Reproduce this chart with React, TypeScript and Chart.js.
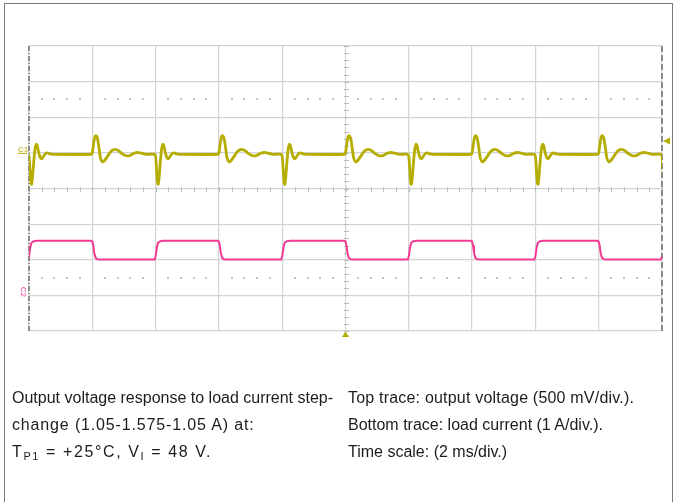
import React, { useEffect, useRef } from "react";
import { Chart, registerables } from "chart.js";

Chart.register(...registerables);

// Time axis: 10 divisions of 2 ms; vertical axis in divisions (-4..4)
const timeMin = 0;
const timeMax = 20;
const timeStep = 2;
const divMin = -4;
const divMax = 4;

// Top trace: output voltage (divisions), baseline level
const voltageBaseline = 0.96;
// load steps up (voltage dips) and down (voltage overshoots), ms
const stepUpTimes = [0, 4, 8, 12, 16, 20];
const stepDownTimes = [2, 6, 10, 14, 18];
// response shapes: [offset ms, level div]
const dipResponse: [number, number][] = [
  [-0.03, 0.96], [0.0, 0.9], [0.03, 0.55], [0.06, 0.17], [0.08, 0.12], [0.11, 0.3],
  [0.15, 0.75], [0.19, 1.1], [0.23, 1.24], [0.26, 1.2], [0.31, 1.0], [0.36, 0.86],
  [0.41, 0.84], [0.47, 0.92], [0.54, 0.99], [0.59, 1.0], [0.66, 0.97], [0.75, 0.96],
];
const overshootResponse: [number, number][] = [
  [-0.03, 0.96], [0.0, 1.0], [0.04, 1.25], [0.08, 1.44], [0.12, 1.48], [0.16, 1.42],
  [0.21, 1.15], [0.26, 0.85], [0.32, 0.75], [0.38, 0.78], [0.48, 0.9], [0.6, 1.05],
  [0.72, 1.1], [0.83, 1.06], [0.95, 0.97], [1.08, 0.915], [1.2, 0.93], [1.32, 0.99],
  [1.44, 1.01], [1.56, 0.99], [1.7, 0.96],
];

// Bottom trace: load current (divisions)
const currentHigh = -1.47;
const currentLow = -1.995;
const currentRise: [number, number][] = [
  [-0.03, -1.995], [0.0, -1.9], [0.04, -1.65], [0.08, -1.52], [0.15, -1.48], [0.25, -1.47],
];
const currentFall: [number, number][] = [
  [-0.05, -1.47], [0.0, -1.49], [0.03, -1.6], [0.06, -1.8], [0.1, -1.94], [0.16, -1.985], [0.25, -1.995],
];

type Pt = { x: number; y: number };

function buildTrace(
  start: number,
  events: { t: number; shape: [number, number][] }[],
  endLevel: number
): Pt[] {
  const pts: Pt[] = [{ x: timeMin - 0.5, y: start }];
  events
    .slice()
    .sort((a, b) => a.t - b.t)
    .forEach((e) => e.shape.forEach(([dt, v]) => pts.push({ x: e.t + dt, y: v })));
  pts.push({ x: timeMax + 0.5, y: endLevel });
  return pts;
}

const voltagePoints = buildTrace(
  voltageBaseline,
  [
    ...stepUpTimes.map((t) => ({ t, shape: dipResponse })),
    ...stepDownTimes.map((t) => ({ t, shape: overshootResponse })),
  ],
  voltageBaseline
);

const currentPoints = buildTrace(
  currentLow,
  [
    ...stepUpTimes.map((t) => ({ t, shape: currentRise })),
    ...stepDownTimes.map((t) => ({ t, shape: currentFall })),
  ],
  currentHigh
);

const YELLOW = "#b5ad00";
const PINK = "#f23a93";

const scopePlugin = {
  id: "scope",
  beforeDatasetsDraw(chart: any) {
    const { ctx, chartArea: a, scales } = chart;
    const x = scales.x;
    const y = scales.y;
    const line = (x1: number, y1: number, x2: number, y2: number) => {
      ctx.beginPath();
      ctx.moveTo(x1, y1);
      ctx.lineTo(x2, y2);
      ctx.stroke();
    };
    ctx.save();
    const cx = Math.round(x.getPixelForValue(10)) + 0.5;
    const cy = Math.round(y.getPixelForValue(0)) + 0.5;
    ctx.strokeStyle = "#bdbdbd";
    ctx.lineWidth = 1;
    for (let i = 0; i <= 50; i++) {
      const px = Math.round(x.getPixelForValue(timeMin + i * 0.4)) + 0.5;
      line(px, cy - 2.5, px, cy + 2.5);
    }
    for (let i = 0; i <= 40; i++) {
      const py = Math.round(y.getPixelForValue(divMin + i * 0.2)) + 0.5;
      line(cx - 2.5, py, cx + 2.5, py);
    }
    // dotted rows
    ctx.fillStyle = "#c4c4c4";
    for (const v of [2.5, -2.5]) {
      const py = Math.round(y.getPixelForValue(v));
      for (let i = 0; i <= 50; i++) {
        if (i % 5 === 0) continue;
        const px = Math.round(x.getPixelForValue(timeMin + i * 0.4));
        ctx.fillRect(px - 1, py - 1, 2, 2);
      }
    }
    // edges
    ctx.strokeStyle = "#8c8c8c";
    ctx.lineWidth = 2;
    ctx.setLineDash([5, 2, 1, 2]);
    line(a.left, a.top, a.left, a.bottom);
    ctx.setLineDash([6, 3]);
    line(a.right, a.top, a.right, a.bottom);
    ctx.restore();
  },
  afterDatasetsDraw(chart: any) {
    const { ctx, chartArea: a, scales } = chart;
    const x = scales.x;
    const y = scales.y;
    ctx.save();
    // trigger position marker (bottom)
    const tx = x.getPixelForValue(10);
    ctx.fillStyle = YELLOW;
    ctx.beginPath();
    ctx.moveTo(tx, a.bottom + 0.5);
    ctx.lineTo(tx - 3.5, a.bottom + 6);
    ctx.lineTo(tx + 3.5, a.bottom + 6);
    ctx.closePath();
    ctx.fill();
    // trigger level marker (right)
    const ty = y.getPixelForValue(1.33);
    ctx.beginPath();
    ctx.moveTo(a.right + 1, ty);
    ctx.lineTo(a.right + 8, ty - 3.5);
    ctx.lineTo(a.right + 8, ty + 3.5);
    ctx.closePath();
    ctx.fill();
    // channel labels
    ctx.font = "8px 'Liberation Sans', Arial, sans-serif";
    ctx.textBaseline = "alphabetic";
    ctx.fillStyle = YELLOW;
    const c1y = y.getPixelForValue(1.0);
    ctx.fillText("C1", a.left - 11, c1y - 1);
    ctx.fillRect(a.left - 11, c1y, 9, 1);
    ctx.fillStyle = PINK;
    ctx.strokeStyle = PINK;
    const c2y = y.getPixelForValue(-2.9);
    ctx.translate(a.left - 8, c2y);
    ctx.rotate(Math.PI / 2);
    ctx.fillText("C2", -5, 0);
    ctx.restore();
  },
};

function ScopeChart() {
  const ref = useRef<HTMLCanvasElement | null>(null);
  useEffect(() => {
    if (!ref.current) return;
    const chart = new Chart(ref.current, {
      type: "line",
      data: {
        datasets: [
          {
            data: voltagePoints,
            borderColor: YELLOW,
            borderWidth: 2.8,
            pointRadius: 0,
            tension: 0.3,
            fill: false,
          },
          {
            data: currentPoints,
            borderColor: PINK,
            borderWidth: 2,
            pointRadius: 0,
            tension: 0,
            fill: false,
          },
        ],
      },
      options: {
        responsive: false,
        animation: false,
        events: [],
        layout: { padding: { left: 29, right: 18, top: 46, bottom: 171 } },
        plugins: { legend: { display: false }, tooltip: { enabled: false } },
        scales: {
          x: {
            type: "linear",
            min: timeMin,
            max: timeMax,
            ticks: { display: false, stepSize: timeStep },
            grid: { color: "#d3d3d3", lineWidth: 1.2, drawTicks: false },
            border: { display: false },
          },
          y: {
            type: "linear",
            min: divMin,
            max: divMax,
            ticks: { display: false, stepSize: 1 },
            grid: { color: "#d3d3d3", lineWidth: 1.2, drawTicks: false },
            border: { display: false },
          },
        },
      },
      plugins: [scopePlugin],
    } as any);
    return () => chart.destroy();
  }, []);
  return (
    <canvas
      ref={ref}
      width={680}
      height={502}
      style={{ position: "absolute", left: 0, top: 0, width: 680, height: 502 }}
    />
  );
}

const textStyle: React.CSSProperties = {
  position: "absolute",
  top: 384,
  fontFamily: "'Liberation Sans', Arial, sans-serif",
  fontSize: 16,
  lineHeight: "27px",
  color: "#1c1c1c",
  whiteSpace: "nowrap",
};

const subStyle: React.CSSProperties = {
  fontSize: 11,
  verticalAlign: "baseline",
  position: "relative",
  top: 3,
};

export default function App() {
  return (
    <div
      style={{
        position: "fixed",
        left: 0,
        top: 0,
        width: 680,
        height: 502,
        background: "#fff",
        overflow: "hidden",
      }}
    >
      <div
        style={{
          position: "absolute",
          left: 4,
          top: 3,
          width: 669,
          height: 600,
          boxSizing: "border-box",
          border: "1px solid #7a7a7a",
        }}
      />
      <ScopeChart />
      <div style={{ ...textStyle, left: 12 }}>
        <div>Output voltage response to load current step-</div>
        <div style={{ letterSpacing: 0.85 }}>change (1.05-1.575-1.05 A) at:</div>
        <div style={{ letterSpacing: 1.6 }}>
          T<span style={subStyle}>P1</span> = +25°C, V<span style={subStyle}>I</span> = 48 V.
        </div>
      </div>
      <div style={{ ...textStyle, left: 348 }}>
        <div style={{ letterSpacing: 0.2 }}>Top trace: output voltage (500 mV/div.).</div>
        <div>Bottom trace: load current (1 A/div.).</div>
        <div>Time scale: (2 ms/div.)</div>
      </div>
    </div>
  );
}
